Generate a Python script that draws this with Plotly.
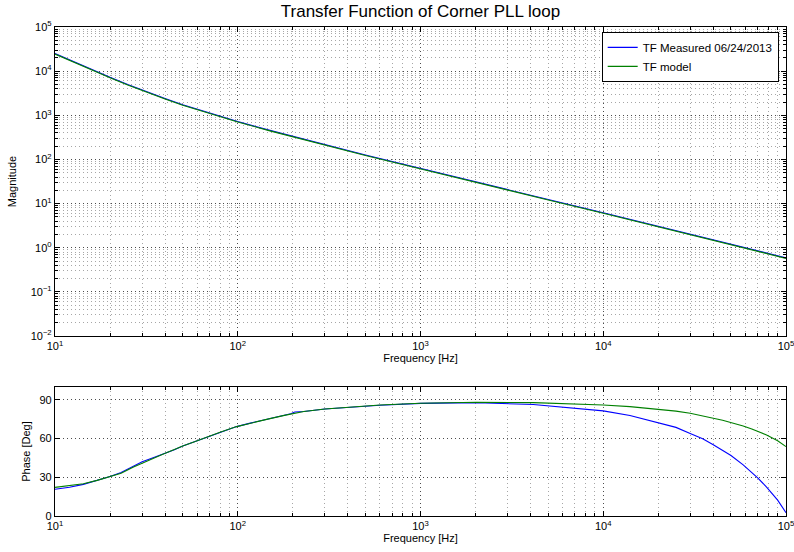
import plotly.graph_objects as go

# ---------------- data ----------------
freq_mag = [10, 12, 15, 20, 25, 30, 40, 50, 70, 100, 150, 200, 300, 500, 700,
            1000, 2000, 5000, 10000, 20000, 50000, 100000]
mag_measured = [2.5e4, 1.795e4, 1.202e4, 7.24e3, 4.98e3, 3.70e3, 2.40e3, 1.725e3, 1.110e3,
                723, 455, 332, 215, 126.5, 89.5, 62.2, 31.1, 12.4, 6.22, 3.09, 1.21, 0.59]
mag_model = [2.44e4, 1.75e4, 1.17e4, 7.06e3, 4.86e3, 3.61e3, 2.34e3, 1.685e3, 1.085e3,
             705, 444, 324, 210, 123, 87.3, 60.6, 30.3, 12.1, 6.06, 3.01, 1.18, 0.575]

freq_ph = [10, 12, 14.3, 17, 20, 23, 26.9, 30, 35, 39.2, 45, 50, 58, 67.7, 80,
           98.6, 117, 150, 180, 195, 205, 230, 300, 394, 600, 1000, 2030, 4140,
           7160, 10000, 14000, 19600, 25000, 29900, 35000, 40000, 45000, 50000,
           58300, 65000, 70000, 78300, 90000, 100000]
ph_measured = [20.7, 22.3, 24.5, 27.6, 30.6, 33.8, 39.0, 42.0, 45.6, 48.0, 51.4, 54.3,
               57.6, 61.2, 65.0, 69.3, 72.0, 75.5, 78.0, 79.3, 80.6, 81.0, 83.0, 84.3,
               85.8, 87.3, 87.9, 86.4, 83.6, 81.5, 77.9, 72.7, 68.7, 64.0, 59.8, 55.2,
               51.1, 46.9, 39.6, 33.9, 29.6, 22.4, 12.3, 2.6]
ph_model = [22.2, 23.4, 25.0, 27.6, 30.5, 33.2, 38.0, 41.0, 45.0, 48.0, 51.5, 54.3,
            57.6, 61.2, 65.0, 69.3, 72.0, 75.5, 78.0, 79.0, 79.6, 81.0, 83.0, 84.3,
            86.0, 87.4, 88.2, 87.9, 87.1, 86.1, 84.8, 82.8, 81.3, 79.7, 77.9, 75.8,
            74.2, 72.6, 69.8, 67.5, 65.6, 62.8, 58.3, 53.8]

x_decades = [1, 2, 3, 4, 5]
y_decades = [-2, -1, 0, 1, 2, 3, 4, 5]
phase_ticks = [0, 30, 60, 90]

title_text = "Transfer Function of Corner PLL loop"
legend_names = ["TF Measured 06/24/2013", "TF model"]


def sup(n):
    s = str(n).replace("-", "\u2212")
    return "10<sup>%s</sup>" % s


x_tickvals = [10 ** d for d in x_decades]
x_ticktext = [sup(d) for d in x_decades]
x_minor = [m * 10 ** d for d in x_decades[:-1] for m in range(2, 10)]
y_tickvals = [10.0 ** d for d in y_decades]
y_ticktext = [sup(d) for d in y_decades]
y_minor = [m * 10.0 ** d for d in y_decades[:-1] for m in range(2, 10)]

FONT = "Liberation Sans, Arial, Helvetica, sans-serif"
BLUE = "#0000ff"
GREEN = "#008000"
MAJ_GRID = "rgba(0,0,0,0.7)"
MIN_GRID = "rgba(0,0,0,0.35)"
DOTS = "1px,3px"

fig = go.Figure()
fig.add_trace(go.Scatter(x=freq_mag, y=mag_measured, mode="lines", name=legend_names[0],
                         line=dict(color=BLUE, width=1.1), xaxis="x", yaxis="y"))
fig.add_trace(go.Scatter(x=freq_mag, y=mag_model, mode="lines", name=legend_names[1],
                         line=dict(color=GREEN, width=1.1), xaxis="x", yaxis="y"))
fig.add_trace(go.Scatter(x=freq_ph, y=ph_measured, mode="lines", showlegend=False,
                         line=dict(color=BLUE, width=1.1), xaxis="x2", yaxis="y2"))
fig.add_trace(go.Scatter(x=freq_ph, y=ph_model, mode="lines", showlegend=False,
                         line=dict(color=GREEN, width=1.1), xaxis="x2", yaxis="y2"))

common_axis = dict(showline=True, linecolor="black", linewidth=1.3, mirror="allticks",
                   ticks="inside", ticklen=5, tickcolor="black", automargin=False,
                   ticklabeloverflow="allow",
                   tickfont=dict(family=FONT, size=11, color="black"),
                   showgrid=True, gridcolor=MAJ_GRID, griddash=DOTS, gridwidth=1,
                   zeroline=False)

log_x = dict(common_axis, type="log", range=[1, 5], tickmode="array",
             tickvals=x_tickvals, ticktext=x_ticktext,
             minor=dict(tickmode="array", tickvals=x_minor, ticks="inside", ticklen=3,
                        tickcolor="black", showgrid=True, gridcolor=MIN_GRID,
                        griddash=DOTS),
             title=dict(text="Frequency [Hz]", font=dict(family=FONT, size=11, color="black"),
                        standoff=1))

fig.update_layout(
    width=794, height=552,
    margin=dict(l=55, r=8, t=27, b=36),
    paper_bgcolor="white", plot_bgcolor="white",
    font=dict(family=FONT, size=11, color="black"),
    title=dict(text=title_text, x=0.5, xref="paper", xanchor="center",
               y=1 - 11 / 552, yref="container", yanchor="middle",
               font=dict(family=FONT, size=17, color="black")),
    xaxis=dict(log_x, domain=[0, 1], anchor="y"),
    yaxis=dict(common_axis, type="log", range=[-2, 5], domain=[0.368, 1], anchor="x",
               tickmode="array", tickvals=y_tickvals, ticktext=y_ticktext,
               minor=dict(tickmode="array", tickvals=y_minor, ticks="inside", ticklen=3,
                          tickcolor="black", showgrid=True, gridcolor=MIN_GRID,
                          griddash=DOTS),
               title=dict(text="Magnitude", font=dict(family=FONT, size=11, color="black"),
                          standoff=11)),
    xaxis2=dict(log_x, domain=[0, 1], anchor="y2"),
    yaxis2=dict(common_axis, range=[0, 100], domain=[0, 0.2638], anchor="x2",
                tickmode="array", tickvals=phase_ticks,
                title=dict(text="Phase [Deg]", font=dict(family=FONT, size=11, color="black"),
                           standoff=6)),
    legend=dict(x=0.99, y=0.99, xanchor="right", yanchor="top", bgcolor="white",
                bordercolor="black", borderwidth=1, font=dict(family=FONT, size=11.5),
                tracegroupgap=0),
    showlegend=True,
)

fig.write_html("out.html")
